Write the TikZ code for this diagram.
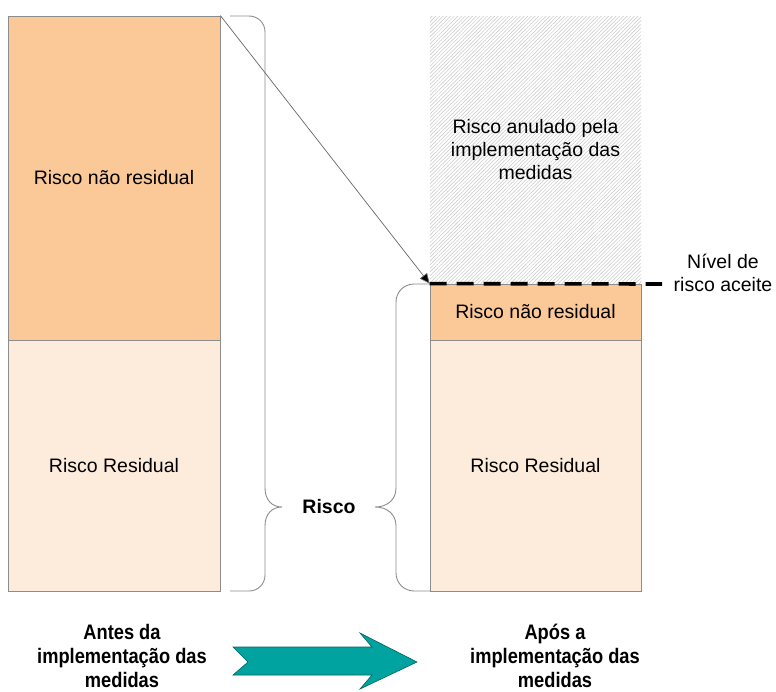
\documentclass[tikz,border=0pt]{standalone}
\usepackage{fontspec}
\setmainfont{Liberation Sans}
\usetikzlibrary{arrows.meta,patterns.meta}
\definecolor{orD}{HTML}{FBC897}
\definecolor{orL}{HTML}{FDEBDB}
\definecolor{teal1}{HTML}{00A39F}
\definecolor{edge}{HTML}{8C8C8C}
\begin{document}
\begin{tikzpicture}[x=1pt,y=-1pt,
  box/.style={draw=edge,line width=0.8pt,inner sep=0pt,align=center,
    font=\fontsize{19.5}{23}\selectfont},
  brace/.style={draw=edge,line width=0.9pt},
  lbl/.style={align=center,inner sep=0pt,font=\fontsize{19.5}{23}\selectfont},
  bold/.style={inner sep=0pt,font=\bfseries\fontsize{21}{24}\selectfont}]
\useasboundingbox (0,0) rectangle (776,691);
% left column
\node[box,fill=orD,minimum width=212,minimum height=324] (lt) at (114,178) {Risco não residual};
\node[box,fill=orL,minimum width=212,minimum height=251] (lb) at (114,465.5) {Risco Residual};
% right column
\node[inner sep=0pt,minimum width=211,minimum height=268,
  pattern={Lines[angle=45,distance=2.6pt,line width=0.5pt]},pattern color=black!22] (ra) at (535.5,150) {};
\node[lbl] (ratext) at (535.5,150) {Risco anulado pela\\implementação das\\medidas};
\node[box,fill=orD,minimum width=211,minimum height=56] (rm) at (535.5,312) {Risco não residual};
\node[box,fill=orL,minimum width=211,minimum height=251] (rb) at (535.5,465.5) {Risco Residual};
% braces
\draw[brace] (230,16) -- (249,16) .. controls (258,16) and (265,23) .. (265,32)
  -- (265,488) .. controls (265,500) and (272,507) .. (282,507)
  .. controls (272,507) and (265,514) .. (265,526)
  -- (265,575) .. controls (265,584) and (258,591) .. (249,591) -- (230,591);
\draw[brace] (430,284) -- (414,284) .. controls (404,284) and (396,292) .. (396,302)
  -- (396,488) .. controls (396,500) and (387,507) .. (375,507)
  .. controls (387,507) and (396,514) .. (396,526)
  -- (396,573) .. controls (396,583) and (404,591) .. (414,591) -- (430,591);
\node[inner sep=0pt,font=\bfseries\fontsize{19.5}{23}\selectfont] (risco) at (329,507) {Risco};
% level line
\coordinate (lvlend) at (662,284);
\draw[line width=3.6pt,dash pattern=on 17pt off 10pt] (rm.north west) -- (lvlend);
\node[lbl] (nivel) at (723,273) {Nível de\\risco aceite};
% diagonal connector
\draw[draw=black!60,line width=0.7pt,-{Triangle[length=10pt,width=9pt,fill=black]}] (lt.north east) -- (rm.north west);
% bottom labels
\node[bold] (antes) at (122,659) {\scalebox{0.87}[1]{\begin{tabular}{@{}c@{}}Antes da\\implementação das\\medidas\end{tabular}}};
\node[bold] (apos) at (555,659) {\scalebox{0.87}[1]{\begin{tabular}{@{}c@{}}Após a\\implementação das\\medidas\end{tabular}}};
% big arrow
\draw[fill=teal1,draw=teal1!60!black,line width=0.6pt]
  (233,647) -- (372,647) -- (360,633) -- (417,662) -- (360,689) -- (372,675) -- (233,675) -- (248,662) -- cycle;
\end{tikzpicture}
\end{document}
